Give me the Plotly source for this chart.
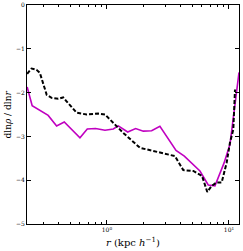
import plotly.graph_objects as go

r_sim = [0.222, 0.244, 0.330, 0.387, 0.447, 0.601, 0.690, 0.807, 0.964, 1.127, 1.239, 1.479,
         1.718, 1.986, 2.323, 2.716, 3.681, 4.305, 5.781, 6.761, 7.674, 9.099, 10.19, 12.08]
slope_sim = [-1.87, -2.30, -2.52, -2.76, -2.67, -3.03, -2.83, -2.82, -2.86, -2.83, -2.76, -2.90,
             -2.82, -2.88, -2.87, -2.77, -3.32, -3.45, -3.79, -4.11, -4.13, -3.61, -3.18, -1.54]

r_model = [0.222, 0.241, 0.265, 0.282, 0.321, 0.352, 0.399, 0.438, 0.467, 0.565, 0.682, 0.849,
           0.964, 1.127, 1.201, 1.360, 1.864, 2.555, 3.608, 4.22, 5.10, 6.01, 6.64, 7.21,
           7.93, 8.71, 9.57, 10.19, 10.85, 11.20]
slope_model = [-1.57, -1.45, -1.48, -1.55, -2.05, -2.12, -2.14, -2.11, -2.20, -2.46, -2.50, -2.48,
               -2.50, -2.69, -2.76, -2.92, -3.26, -3.35, -3.45, -3.77, -3.79, -3.90, -4.27, -4.13,
               -4.05, -4.05, -3.60, -3.14, -2.84, -1.93]

x_tickvals = [1, 10]
x_ticktext = ["10<sup>0</sup>", "10<sup>1</sup>"]
x_minor = [0.3, 0.4, 0.5, 0.6, 0.7, 0.8, 0.9, 2, 3, 4, 5, 6, 7, 8, 9]
y_tickvals = [0, -1, -2, -3, -4, -5]
y_ticktext = ["0", "−1", "−2", "−3", "−4", "−5"]
x_title = "<i>r</i> (kpc <i>h</i><sup>−1</sup>)"
y_title = "dln<i>ρ</i> / dln<i>r</i>"

fig = go.Figure()
fig.add_trace(go.Scatter(x=r_sim, y=slope_sim, mode="lines",
                         line=dict(color="#c000c0", width=1.6)))
fig.add_trace(go.Scatter(x=r_model, y=slope_model, mode="lines",
                         line=dict(color="black", width=2, dash="4px,2px")))

fig.update_layout(
    width=243, height=251,
    margin=dict(l=27, r=4, t=5, b=27, autoexpand=False),
    paper_bgcolor="white", plot_bgcolor="white",
    showlegend=False,
    font=dict(family="DejaVu Serif", size=6, color="black"),
)
fig.update_xaxes(
    type="log", range=[-0.655, 1.082], automargin=False,
    tickvals=x_tickvals, ticktext=x_ticktext,
    ticks="inside", ticklen=4, tickwidth=0.8, tickcolor="black",
    minor=dict(tickvals=x_minor, ticks="inside", ticklen=2, tickcolor="black", showgrid=False),
    showline=True, linecolor="black", linewidth=1, mirror="allticks",
    showgrid=False, zeroline=False,
    tickfont=dict(size=6, family="DejaVu Serif"),
)
fig.update_yaxes(
    range=[-5, 0], automargin=False,
    tickvals=y_tickvals, ticktext=y_ticktext,
    ticks="inside", ticklen=4, tickwidth=0.8, tickcolor="black",
    showline=True, linecolor="black", linewidth=1, mirror="allticks",
    showgrid=False, zeroline=False,
    tickfont=dict(size=6, family="DejaVu Serif"),
)
fig.add_annotation(text=x_title, xref="paper", yref="paper", x=0.5, y=0,
                   xanchor="center", yanchor="middle", yshift=-18,
                   showarrow=False, font=dict(size=10, family="DejaVu Serif"))
fig.add_annotation(text=y_title, xref="paper", yref="paper", x=0, y=0.5,
                   xanchor="center", yanchor="middle", xshift=-20,
                   textangle=-90, showarrow=False, font=dict(size=9, family="DejaVu Serif"))

fig.write_html("out.html", config={"displayModeBar": False},
               post_script="document.body.style.margin='0';document.body.style.overflow='hidden';")
